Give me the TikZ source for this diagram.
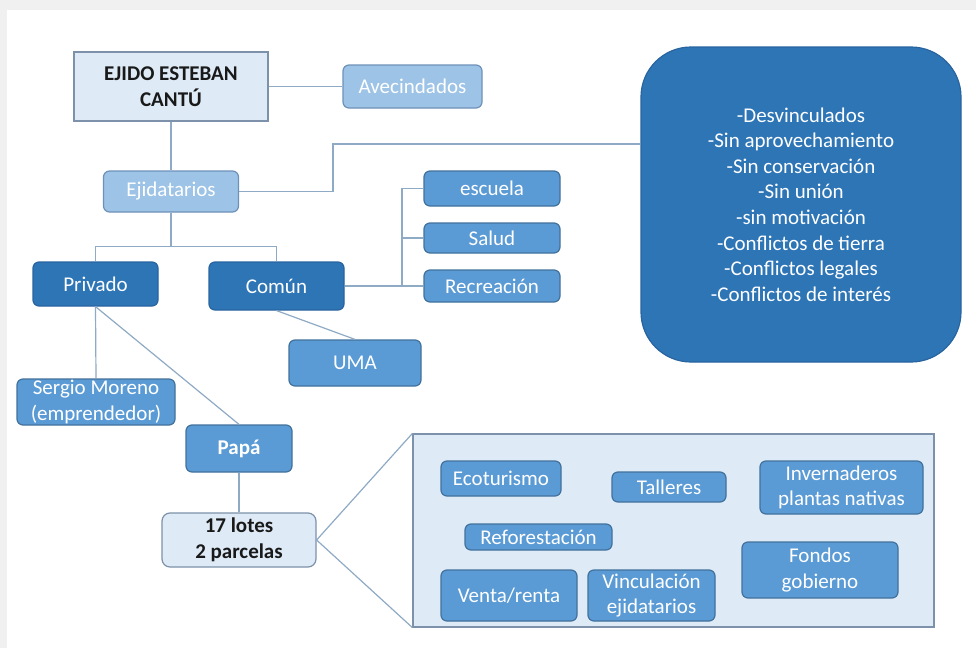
\documentclass[tikz,border=0pt]{standalone}
\usepackage{fontspec}
\setmainfont{Carlito}
\usetikzlibrary{positioning, calc}
\definecolor{darkblue}{RGB}{46,117,182}
\definecolor{darkedge}{RGB}{40,100,160}
\definecolor{midblue}{RGB}{91,155,213}
\definecolor{midedge}{RGB}{65,113,156}
\definecolor{lightblue}{RGB}{157,195,230}
\definecolor{lightedge}{RGB}{110,145,185}
\definecolor{paleblue}{RGB}{222,235,247}
\definecolor{paleedge}{RGB}{125,145,170}
\definecolor{linkcolor}{RGB}{143,170,196}
\tikzset{
  basenode/.style={
    rectangle, rounded corners=3pt,
    align=center, inner sep=0pt,
    line width=0.6pt, text=white,
    font=\fontsize{10.5}{12.8}\selectfont
  },
  darknode/.style={basenode, fill=darkblue, draw=darkedge},
  midnode/.style={basenode, fill=midblue, draw=midedge},
  lightnode/.style={basenode, fill=lightblue, draw=lightedge},
  palenode/.style={basenode, fill=paleblue, draw=paleedge,
    text=black!90, font=\fontsize{10.5}{12.8}\selectfont\bfseries},
  link/.style={draw=linkcolor, line width=0.6pt}
}

\begin{document}
\begin{tikzpicture}[x=0.5pt, y=-0.5pt]

  % Page background
  \fill[black!6] (0,0) rectangle (976,648);
  \fill[white] (7,10) rectangle (976,648);
  \useasboundingbox (0,0) rectangle (976,648);

  % Top of the tree
  \node[palenode, rounded corners=0pt, minimum width=97pt, minimum height=34.5pt]
    (ejido) at (171,86.5) {EJIDO ESTEBAN\\CANTÚ};
  \node[lightnode, minimum width=69.5pt, minimum height=21.5pt]
    (aveci) at (412.5,86.5) {Avecindados};
  \node[lightnode, minimum width=67.5pt, minimum height=20.5pt]
    (ejidat) at (171,191.5) {Ejidatarios};

  % Land types
  \node[darknode, minimum width=62.5pt, minimum height=22pt]
    (privado) at (95.5,284) {Privado};
  \node[darknode, minimum width=67.5pt, minimum height=24pt]
    (comun) at (276.5,286) {Común};

  % Common land uses
  \node[midnode, minimum width=68pt, minimum height=17.5pt]
    (escuela) at (492,188.5) {escuela};
  \node[midnode, minimum width=68pt, minimum height=15pt]
    (salud) at (492,238) {Salud};
  \node[midnode, minimum width=68pt, minimum height=16pt]
    (recre) at (492,286) {Recreación};
  \node[midnode, minimum width=66pt, minimum height=23pt]
    (uma) at (355,363) {UMA};

  % Private owners
  \node[midnode, minimum width=79pt, minimum height=23pt]
    (sergio) at (96,402) {Sergio Moreno\\(emprendedor)};
  \node[midnode, minimum width=53pt, minimum height=23.5pt,
    font=\fontsize{10.5}{12.8}\selectfont\bfseries]
    (papa) at (239,448.5) {Papá};
  \node[palenode, rounded corners=4pt, minimum width=77pt, minimum height=27pt]
    (lotes) at (239,540) {17 lotes\\2 parcelas};

  % Problems
  \node[darknode, rounded corners=25pt, minimum width=160pt, minimum height=157.5pt]
    (problemas) at (801,204.5) {-Desvinculados\\-Sin aprovechamiento\\-Sin conservación\\-Sin unión\\-sin motivación\\-Conflictos de tierra\\-Conflictos legales\\-Conflictos de interés};

  % Proposals
  \node[basenode, rounded corners=0pt, fill=paleblue, draw=paleedge,
    minimum width=260.5pt, minimum height=96.5pt]
    (propuestas) at (673.5,530.5) {};
  \node[midnode, minimum width=60pt, minimum height=17.5pt]
    (ecot) at (501,478.5) {Ecoturismo};
  \node[midnode, minimum width=57pt, minimum height=15pt]
    (talleres) at (669,487) {Talleres};
  \node[midnode, minimum width=81.5pt, minimum height=26.5pt]
    (inver) at (841.5,487.5) {Invernaderos\\plantas nativas};
  \node[midnode, minimum width=73.5pt, minimum height=13pt]
    (refor) at (538.5,537) {Reforestación};
  \node[midnode, minimum width=78pt, minimum height=28pt]
    (fondos) at (820,570) {Fondos\\gobierno};
  \node[midnode, minimum width=68pt, minimum height=25.5pt]
    (venta) at (509,595.5) {Venta/renta};
  \node[midnode, minimum width=63.5pt, minimum height=25.5pt]
    (vincu) at (651.5,595.5) {Vinculación\\ejidatarios};

  % Connectors
  \draw[link] (ejido) -- (aveci);
  \draw[link] (ejido.south) -- (ejido.south |- ejidat.north);
  \draw[link] (ejidat.south) -- ++(0,34) coordinate (split);
  \draw[link] (privado.north) |- (split) -| (comun.north);
  \coordinate (bend) at (333,144);
  \draw[link] (ejidat.east) -| (bend) -- (bend -| problemas.west);
  \coordinate (trunk) at (402,286);
  \draw[link] (comun.east) -- (trunk);
  \draw[link] (escuela.west) -| (trunk);
  \draw[link] (salud.west) -| (trunk);
  \draw[link] (recre.west) -- (trunk);
  \draw[link] (comun.south) -- (uma.north);
  \draw[link] (privado.south) -- (sergio.north);
  \draw[link] (privado.south) -- (papa.north);
  \draw[link] (papa) -- (lotes);
  \draw[link] (propuestas.north west) -- (lotes.east) -- (propuestas.south west);

\end{tikzpicture}
\end{document}
